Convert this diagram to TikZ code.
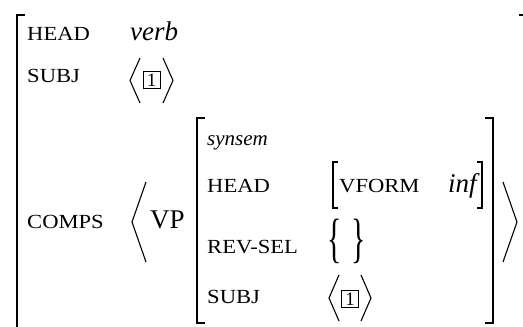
\documentclass[tikz,border=0pt]{standalone}
\usepackage{fontspec}
\setmainfont{Liberation Serif}
\newfontfamily\avmsc[FakeStretch=1.13]{Liberation Serif}
\usetikzlibrary{positioning}

\begin{document}
\begin{tikzpicture}[
        x=1pt, y=-1pt,
        attr/.style={anchor=base west, inner sep=0pt, font=\avmsc\fontsize{20}{24}\selectfont},
        val/.style={anchor=base west, inner sep=0pt, font=\fontsize{27}{32}\selectfont},
        ival/.style={anchor=base west, inner sep=0pt, font=\itshape\fontsize{27}{32}\selectfont},
        tagbox/.style={draw, line width=0.7pt, minimum size=17pt, inner sep=0pt, font=\fontsize{19}{20}\selectfont},
        delim/.style={inner sep=0pt, font=\fontsize{27}{32}\selectfont},
        brk/.style={line width=1.8pt},
        angl/.style={line width=1.1pt}
    ]
    \clip (0,0) rectangle (523,327);

    % outer AVM
    \node[attr] (head) at (27,40) {HEAD};
    \node[ival] (verb) at (130,40) {verb};
    \node[attr] (subj) at (27,82) {SUBJ};
    \node[tagbox] (tag1) at (151.5,80) {1};
    \node[attr] (comps) at (27,228) {COMPS};
    \node[val] (vp) at (150,228) {VP};

    % inner AVM of the VP
    \node[anchor=base west, inner sep=0pt, font=\itshape\fontsize{21}{24}\selectfont] (synsem) at (207,145) {synsem};
    \node[attr] (ihead) at (207,192) {HEAD};
    \node[attr] (vform) at (339,192) {VFORM};
    \node[ival] (inf) at (448,192) {inf};
    \node[attr] (revsel) at (207,253) {REV-SEL};
    \node[attr] (isubj) at (207,303) {SUBJ};
    \node[tagbox] (tag2) at (350,299) {1};

    % empty set
    \node[delim] (lbrace) at (335,241) {\scalebox{1.1}[2.0]{\{}};
    \node[delim] (rbrace) at (359,241) {\scalebox{1.1}[2.0]{\}}};

    % brackets
    \draw[brk] (25,15) -- (17,15) -- (17,330);
    \draw[brk] (519,15) -- (526,15) -- (526,330);
    \draw[brk] (205,118) -- (197,118) -- (197,323) -- (205,323);
    \draw[brk] (485,118) -- (493,118) -- (493,323) -- (485,323);
    \draw[line width=1.2pt] (338,162) -- (333,162) -- (333,208) -- (338,208);
    \draw[line width=1.2pt] (477,162) -- (482,162) -- (482,208) -- (477,208);

    % angle brackets
    \draw[angl] (140,58) -- (130,80.5) -- (140,103);
    \draw[angl] (163,58) -- (173,80.5) -- (163,103);
    \draw[angl] (146,182) -- (132,222) -- (146,262);
    \draw[angl] (503,182) -- (517,222) -- (503,262);
    \draw[angl] (339,275) -- (329,298) -- (339,321);
    \draw[angl] (361,275) -- (371,298) -- (361,321);

\end{tikzpicture}
\end{document}
